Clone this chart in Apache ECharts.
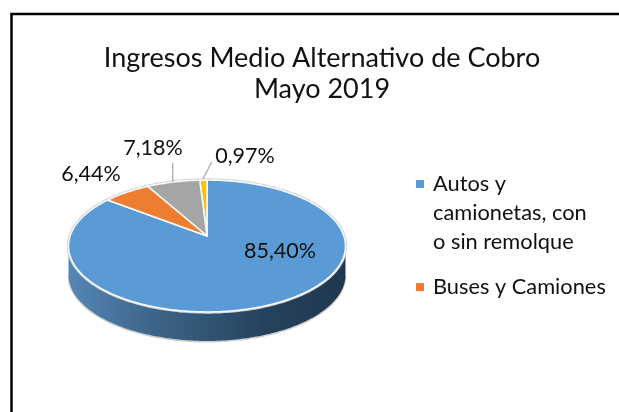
<!DOCTYPE html>
<html>
<head>
<meta charset="utf-8">
<style>
  html, body { margin: 0; padding: 0; background: #fff; }
  #chart { width: 619px; height: 412px; }
</style>
<script src="https://cdn.jsdelivr.net/npm/echarts@6/dist/echarts.min.js"></script>
</head>
<body>
<div id="chart"></div>
<script>
// datos
const categories = ["Medio D", "Medio C", "Buses y Camiones", "Autos y camionetas, con o sin remolque"];
const values = [0.97, 7.18, 6.44, 85.40];
const colors = ["#ffc000", "#a5a5a5", "#ed7d31", "#5b9bd5"];
const legendLines = [["Autos y", "camionetas, con", "o sin remolque"], ["Buses y Camiones"]];
const legendColors = ["#5b9bd5", "#ed7d31"];
const titleLines = ["Ingresos Medio Alternativo de Cobro", "Mayo 2019"];

const FONT = "Lato, 'Open Sans', sans-serif";

// proyeccion del disco (perspectiva), apice fuera del centro de la elipse
const cx = 207, apexY = 236, sx = 136.9, persp = 0.1515, yk = -28.7, depth = 29;
const project = (deg) => {
  const t = deg * Math.PI / 180;
  const u = -Math.sin(t), v = Math.cos(t);
  const w = 1 + persp * v;
  return [cx + sx * u / w, (apexY + yk * v) / w];
};
// tramo del borde que se ve de frente
const wallFrom = Math.acos(-persp) * 180 / Math.PI;
const wallTo = 360 - wallFrom;

const arc = (a, b) => {
  const pts = [];
  const n = Math.max(2, Math.ceil(Math.abs(b - a)));
  for (let i = 0; i <= n; i++) pts.push(project(a + (b - a) * i / n));
  return pts;
};

const total = values.reduce((s, v) => s + v, 0);
const starts = [];
values.reduce((s, v, i) => { starts[i] = s; return s + v; }, 0);

const labelPos = [
  { x: 245, y: 156, line: [[211.7, 162], [203, 179]] },
  { x: 153, y: 148, line: [[172.7, 163], [172.7, 181.5]] },
  { x: 91, y: 174 },
  { x: 280, y: 251 },
];

const renderSlice = (params, api) => {
  const i = params.seriesIndex;
  const a = (starts[i] / total) * 360;
  const b = ((starts[i] + values[i]) / total) * 360;
  const children = [];
  // pared lateral
  const wa = Math.max(a, wallFrom), wb = Math.min(b, wallTo);
  if (wb > wa) {
    const top = arc(wa, wb);
    const bottom = top.map((p) => [p[0], p[1] + depth]).reverse();
    children.push({
      type: "polyline",
      shape: { points: bottom.map((p) => [p[0], p[1] + 0.8]) },
      style: { fill: "none", stroke: "#cfcfcf", lineWidth: 1.5 },
    });
    children.push({
      type: "polygon",
      shape: { points: top.concat(bottom) },
      style: {
        fill: new echarts.graphic.LinearGradient(0, 0, 1, 0, [
          { offset: 1, color: "#1f3850" },
          { offset: 0.72, color: "#25415c" },
          { offset: 0.3, color: "#3d6589" },
          { offset: 0, color: "#5487b6" },
        ], false),
      },
    });
  }
  // reborde gris exterior
  children.push({
    type: "polyline",
    shape: { points: arc(a, b) },
    style: { fill: "none", stroke: "#cdd2d6", lineWidth: 3.4 },
    z2: 4,
  });
  // cara superior
  children.push({
    type: "polygon",
    shape: { points: [[cx, apexY]].concat(arc(a, b)) },
    style: { fill: colors[i], stroke: "#f6f8fa", lineWidth: 1.6, lineJoin: "round" },
    z2: 5,
  });
  // etiqueta
  const lp = labelPos[i];
  children.push({
    type: "text",
    x: lp.x, y: lp.y,
    style: {
      text: values[i].toFixed(2).replace(".", ",") + "%",
      fill: "#111", font: "21.5px " + FONT, textAlign: "center", textVerticalAlign: "middle",
    },
    z2: 10,
  });
  if (lp.line) {
    children.push({
      type: "polyline",
      shape: { points: lp.line },
      style: { stroke: "#a6a6a6", lineWidth: 1.2, fill: "none" },
      z2: 10,
    });
  }
  return { type: "group", children };
};

const chart = echarts.init(document.getElementById("chart"));

const legendGraphic = [];
let ly = 184;
legendLines.forEach((lines, i) => {
  legendGraphic.push({ type: "rect", shape: { x: 416, y: ly - 4, width: 8, height: 8 }, style: { fill: legendColors[i] } });
  lines.forEach((t) => {
    legendGraphic.push({
      type: "text", x: 433, y: ly,
      style: { text: t, fill: "#111", font: "21.8px " + FONT, textVerticalAlign: "middle" },
    });
    ly += 29.2;
  });
  ly += 15.5;
});

chart.setOption({
  animation: false,
  title: {
    text: titleLines.join("\n"),
    left: 322, top: 43, padding: 0, textAlign: "center",
    textStyle: { fontFamily: FONT, fontSize: 27, fontWeight: "normal", color: "#111", lineHeight: 31 },
  },
  graphic: [
    // solo borde superior e izquierdo, el resto queda recortado
    {
      type: "polyline", shape: { points: [[11.5, 412], [11.5, 14], [619, 14]] }, silent: true,
      style: { fill: "none", stroke: "#000", lineWidth: 2.5 }, z: -10,
    },
  ].concat(legendGraphic),
  series: values.map((v, i) => ({
    type: "custom",
    name: categories[i],
    coordinateSystem: "none",
    renderItem: renderSlice,
    data: [v],
    silent: true,
    z: i === 3 ? 2 : 3,
  })),
});
</script>
</body>
</html>
